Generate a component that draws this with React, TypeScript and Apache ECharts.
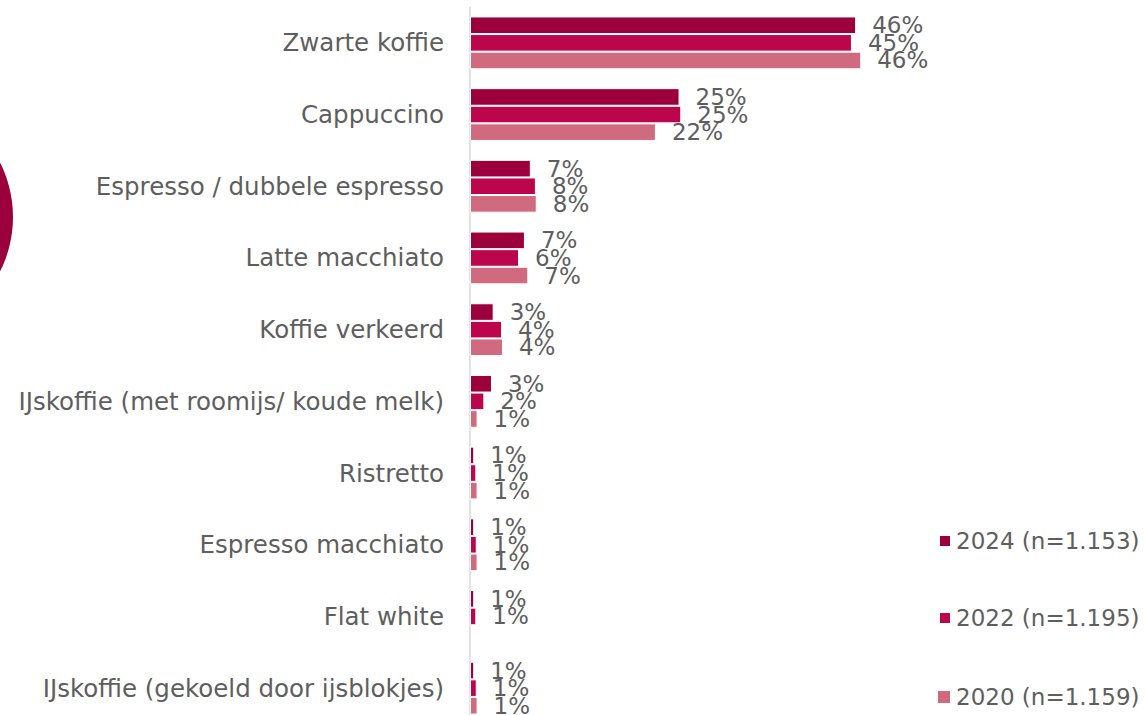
import React, { useEffect, useRef } from "react";
import * as echarts from "echarts";

const categories = [
  "Zwarte koffie",
  "Cappuccino",
  "Espresso / dubbele espresso",
  "Latte macchiato",
  "Koffie verkeerd",
  "IJskoffie (met roomijs/ koude melk)",
  "Ristretto",
  "Espresso macchiato",
  "Flat white",
  "IJskoffie (gekoeld door ijsblokjes)",
];

const seriesNames = ["2024 (n=1.153)", "2022 (n=1.195)", "2020 (n=1.159)"];

const values2024 = [45.7, 24.8, 7.2, 6.5, 2.8, 2.6, 0.5, 0.5, 0.5, 0.5];
const values2022 = [45.2, 25.0, 7.8, 5.8, 3.8, 1.7, 0.75, 0.8, 0.75, 0.8];
const values2020: (number | null)[] = [46.3, 22.0, 7.9, 6.9, 3.9, 0.9, 0.9, 0.9, null, 0.9];

const colors = ["#9B003C", "#BC064B", "#D06A7E"];

const FONT = "'DejaVu Sans', 'Noto Sans', sans-serif";
const TEXT = "#5E5E5E";

export default function App() {
  const ref = useRef<HTMLDivElement>(null);

  useEffect(() => {
    if (!ref.current) return;
    const chart = echarts.init(ref.current, undefined, { renderer: "svg" });
    const allValues = [values2024, values2022, values2020];
    const legendTops = [524, 601, 680];
    const legendIcon = [12, 12, 14];
    const option: any = {
      animation: false,
      backgroundColor: "#ffffff",
      textStyle: { fontFamily: FONT },
      grid: { left: 470, top: 7, width: 422.5, height: 717, containLabel: false },
      xAxis: {
        type: "value",
        min: 0,
        max: 50,
        show: false,
        splitLine: { show: false },
      },
      yAxis: {
        type: "category",
        data: categories,
        inverse: true,
        axisLine: { show: true, lineStyle: { color: "#D9D9D9", width: 1.5 } },
        axisTick: { show: false },
        axisLabel: {
          margin: 26,
          color: TEXT,
          fontSize: 24.5,
          fontFamily: FONT,
        },
      },
      legend: seriesNames.map((name, i) => ({
        orient: "vertical",
        left: 933 - (legendIcon[i] - 12),
        top: legendTops[i],
        itemWidth: legendIcon[i],
        itemHeight: legendIcon[i],
        icon: "rect",
        data: [name],
        textStyle: {
          color: TEXT,
          fontSize: 23,
          lineHeight: 24,
          fontFamily: FONT,
        },
      })),
      graphic: [
        {
          type: "circle",
          shape: { cx: -107.7, cy: 217, r: 120.7 },
          style: { fill: "#9B003C" },
          z: 10,
        },
      ],
      series: seriesNames.map((name, i) => ({
        name,
        type: "bar",
        data: allValues[i],
        barWidth: 17.6,
        barGap: "0%",
        itemStyle: { color: colors[i], borderColor: "#ffffff", borderWidth: 1 },
        label: {
          show: true,
          position: "right",
          distance: 16,
          color: TEXT,
          fontSize: 23,
          fontFamily: FONT,
          formatter: (p: any) => (p.value == null ? "" : Math.round(p.value) + "%"),
        },
      })),
    };
    chart.setOption(option);
    return () => chart.dispose();
  }, []);

  return (
    <div
      style={{
        position: "absolute",
        left: 0,
        top: 0,
        width: 1145,
        height: 715,
        overflow: "hidden",
        background: "#ffffff",
      }}
    >
      <div ref={ref} style={{ width: 1145, height: 740 }} />
    </div>
  );
}
